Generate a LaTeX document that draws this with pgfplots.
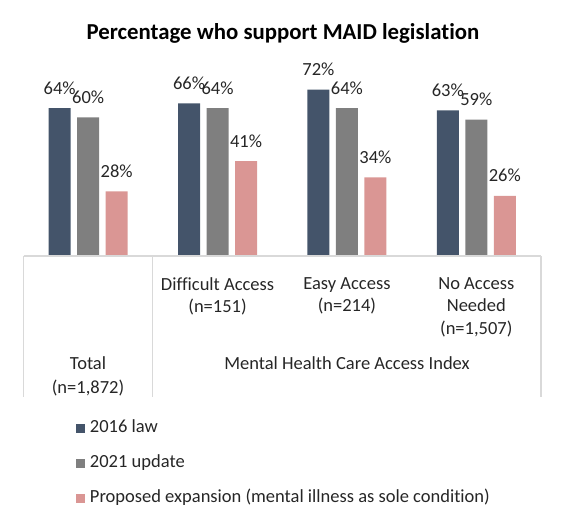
\documentclass[border=0pt]{standalone}
\usepackage{fontspec}
\setmainfont{Carlito}[Ligatures={NoCommon}]
\usepackage{pgfplots}
\pgfplotsset{compat=1.18}
\definecolor{cA}{HTML}{44546A}
\definecolor{cB}{HTML}{7F7F7F}
\definecolor{cC}{HTML}{DA9694}
\definecolor{txt}{HTML}{262626}
\definecolor{linec}{HTML}{D9D9D9}
\newcommand{\lbl}{\fontsize{18.5}{22.5}\selectfont}
\begin{document}
\begin{tikzpicture}[x=1pt,y=1pt]
\path[use as bounding box] (0,0) rectangle (565,-524);
\node[font=\bfseries\fontsize{22.8}{26}\selectfont, text=black] at (283,-33) {Percentage who support MAID legislation};
\begin{axis}[
  at={(23.5pt,-256pt)}, anchor=south west,
  scale only axis, width=517.5pt, height=185pt,
  xmin=-0.5, xmax=3.5, ymin=0, ymax=80,
  ybar=6.5pt, bar width=22pt,
  axis line style={draw=none},
  major tick style={draw=none},
  ytick=\empty,
  xtick={1,2,3},
  xticklabels={{Difficult Access\\(n=151)},{Easy Access\\(n=214)},{No Access\\Needed\\(n=1,507)}},
  xticklabel style={align=center, font=\lbl, text=txt, inner sep=0pt, anchor=north, yshift=-17pt},
  /pgf/number format/assume math mode=true,
  point meta=y,
  nodes near coords={\pgfmathprintnumber{\pgfplotspointmeta}\%},
  every node near coord/.append style={font=\lbl, text=txt, anchor=base, yshift=14pt},
  legend style={at={(0.1014,-0.886)}, anchor=north west, draw=none, fill=none,
    inner sep=0pt, outer sep=0pt,
    nodes={inner sep=0pt, text=txt, font=\lbl, text height=13pt, text depth=4pt},
    row sep=18pt,
    /tikz/every odd column/.append style={column sep=5pt}},
  legend cell align=left,
  myleg/.style={legend image code/.code={\fill[##1] (0pt,-4.5pt) rectangle (9pt,4.5pt);}},
]
\addplot[fill=cA, draw=none, myleg] coordinates {(0,64) (1,66) (2,72) (3,63)};
\addplot[fill=cB, draw=none, myleg] coordinates {(0,60) (1,64) (2,64) (3,59)};
\addplot[fill=cC, draw=none, myleg] coordinates {(0,28) (1,41) (2,34) (3,26)};
\legend{2016 law, 2021 update, Proposed expansion (mental illness as sole condition)}
\end{axis}
\draw[linec, line width=1.2pt] (23.5,-256) -- (541,-256);
\draw[linec, line width=1.2pt] (23.5,-256) -- (23.5,-397);
\draw[linec, line width=1.2pt] (152.5,-256) -- (152.5,-397);
\draw[linec, line width=1.2pt] (541,-256) -- (541,-397);
\node[anchor=base, font=\lbl, text=txt, inner sep=0pt] at (88,-369) {Total};
\node[anchor=base, font=\lbl, text=txt, inner sep=0pt] at (88,-393) {(n=1,872)};
\node[anchor=base, font=\lbl, text=txt, inner sep=0pt] at (347,-369) {Mental Health Care Access Index};
\end{tikzpicture}
\end{document}
